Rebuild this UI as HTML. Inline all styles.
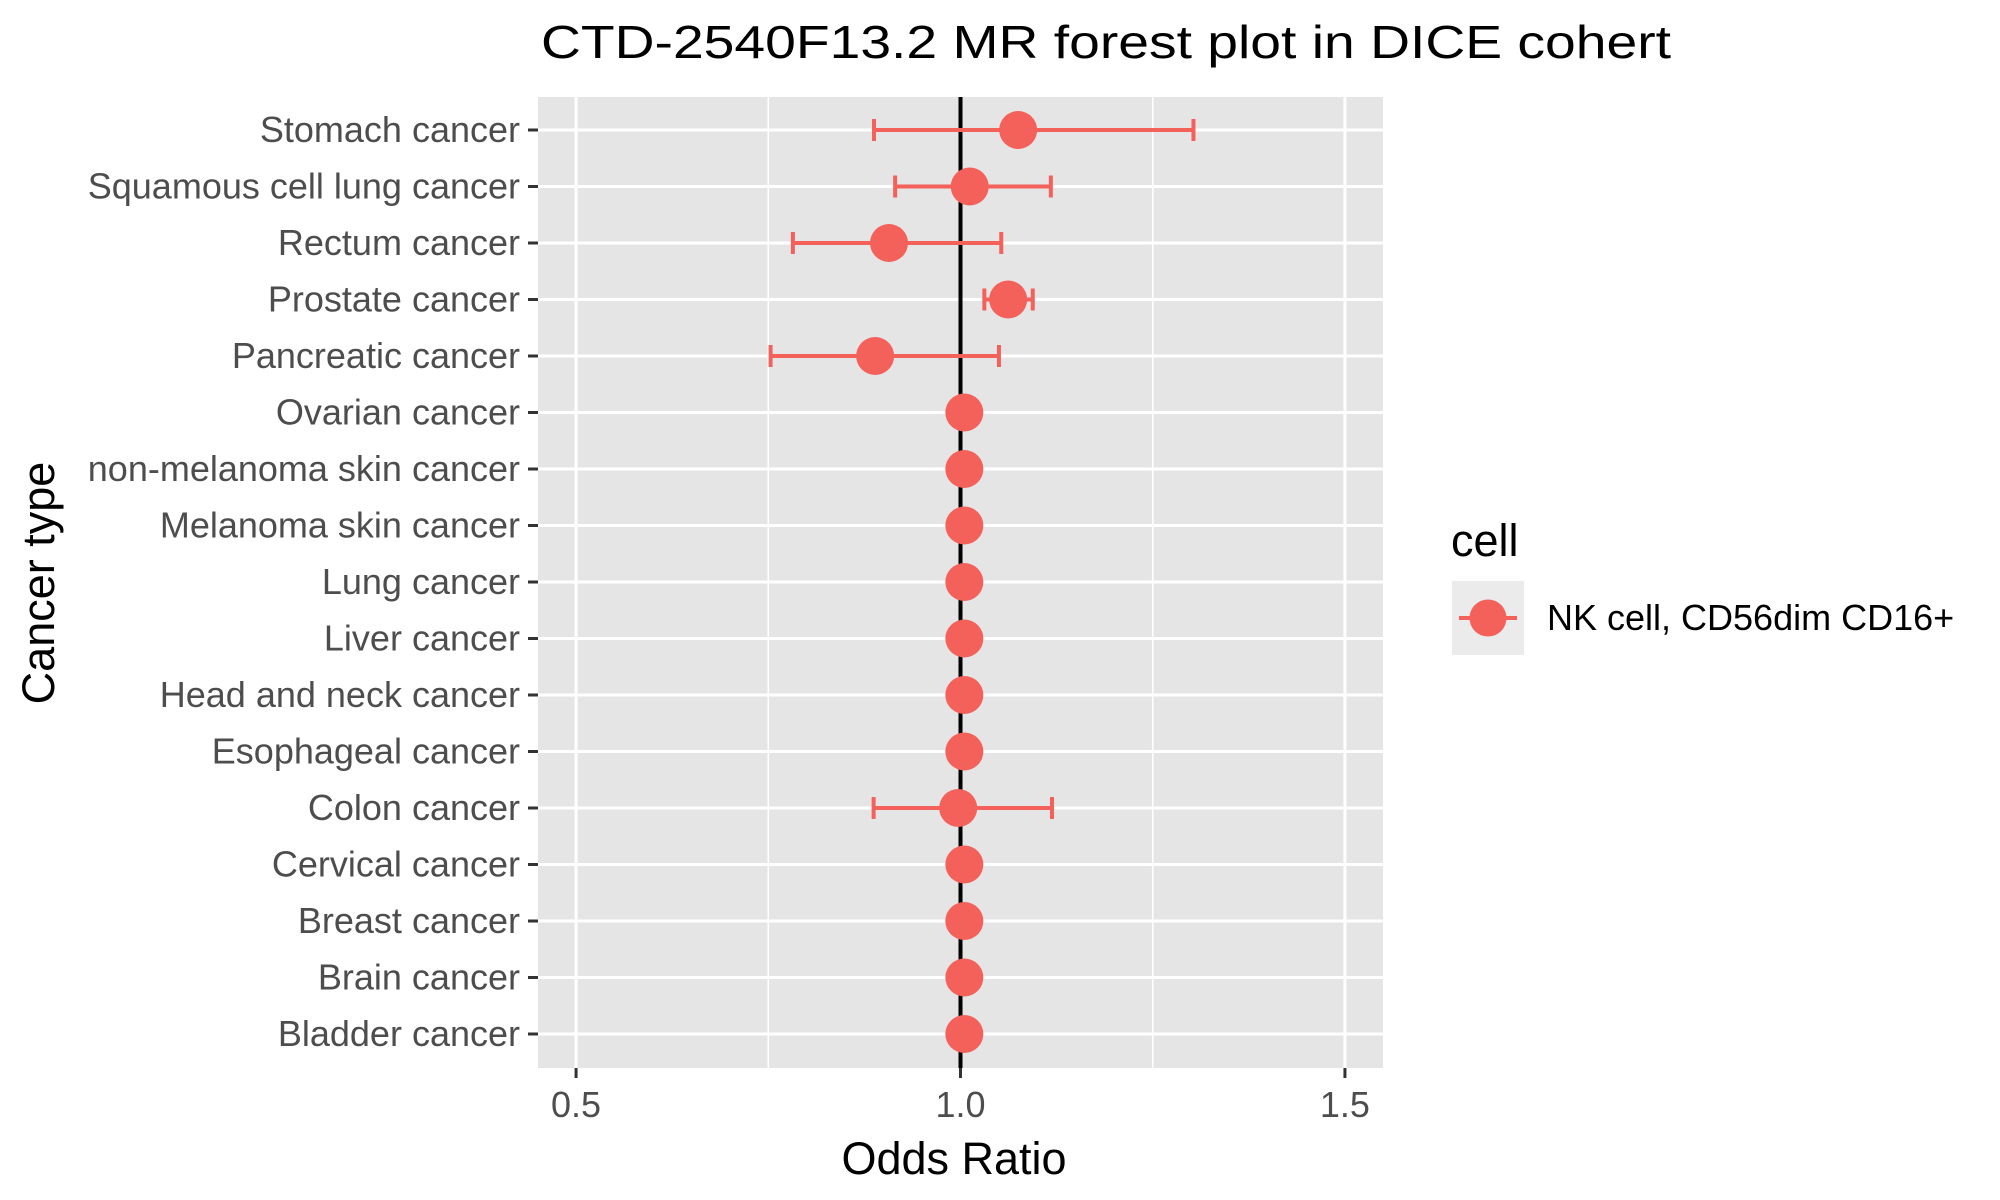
<!DOCTYPE html>
<html><head><meta charset="utf-8"><style>
html,body{margin:0;padding:0;background:#fff;}
svg{display:block;font-family:"Liberation Sans",Arial,sans-serif;}
</style></head><body>
<svg id="chart" width="2000" height="1200" viewBox="0 0 2000 1200">
<text x="1106" y="58" font-size="46" text-anchor="middle" fill="#000" textLength="1130" lengthAdjust="spacingAndGlyphs">CTD-2540F13.2 MR forest plot in DICE cohert</text>
<rect x="538" y="97" width="845" height="971" fill="#e5e5e5"/>
<g id="grid"></g>
<g id="yaxis"></g>
<g id="xaxis"></g>
<line id="refline" y1="97" y2="1068" stroke="#000" stroke-width="4"/>
<g id="marks"></g>
<text x="954" y="1174" font-size="45" text-anchor="middle">Odds Ratio</text>
<text transform="translate(54,583) rotate(-90)" font-size="45" text-anchor="middle">Cancer type</text>
<g>
<text x="1451" y="556" font-size="45">cell</text>
<g>
<rect x="1452" y="581" width="72" height="74" fill="#ebebeb"/>
<line x1="1459" x2="1517" y1="618" y2="618" stroke="#F4605A" stroke-width="4"/>
<circle cx="1488" cy="618" r="18.5" fill="#F4605A"/>
<text x="1547" y="630" font-size="36">NK cell, CD56dim CD16+</text>
</g></g>
</svg>
<script>
const categories=["Stomach cancer","Squamous cell lung cancer","Rectum cancer","Prostate cancer","Pancreatic cancer","Ovarian cancer","non-melanoma skin cancer","Melanoma skin cancer","Lung cancer","Liver cancer","Head and neck cancer","Esophageal cancer","Colon cancer","Cervical cancer","Breast cancer","Brain cancer","Bladder cancer"];
const orValues=[1.075,1.012,0.907,1.062,0.889,1.005,1.005,1.005,1.005,1.005,1.005,1.005,0.997,1.005,1.005,1.005,1.005];
const ciLow=[0.8875,0.915,0.782,1.031,0.753,null,null,null,null,null,null,null,0.887,null,null,null,null];
const ciHigh=[1.303,1.1175,1.053,1.094,1.05,null,null,null,null,null,null,null,1.119,null,null,null,null];
const xTicks=[0.5,1.0,1.5];
const xTickLabels=["0.5","1.0","1.5"];
const xMinor=[0.75,1.25];
const NS="http://www.w3.org/2000/svg";
const COL="#F4605A";
const X0=538,X1=1383,XMIN=0.4505,XMAX=1.5495;
const x=v=>X0+(v-XMIN)/(XMAX-XMIN)*(X1-X0);
const y=i=>130+i*(1034-130)/(categories.length-1);
function mk(tag,attrs,parent){const e=document.createElementNS(NS,tag);for(const k in attrs)e.setAttribute(k,attrs[k]);parent.appendChild(e);return e;}
const grid=document.getElementById('grid'),ya=document.getElementById('yaxis'),xa=document.getElementById('xaxis'),marks=document.getElementById('marks');
xMinor.forEach(v=>{const l=mk('line',{x1:x(v),x2:x(v),y1:97,y2:1068,stroke:'#fff','stroke-width':1.5},grid);

});
xTicks.forEach((v,i)=>{const l=mk('line',{x1:x(v),x2:x(v),y1:97,y2:1068,stroke:'#fff','stroke-width':3},grid);


const t=mk('line',{x1:x(v),x2:x(v),y1:1068,y2:1078,stroke:'#333','stroke-width':3},xa);


const tx=mk('text',{x:x(v),y:1117,'font-size':36,'text-anchor':'middle',fill:'#4d4d4d'},xa);tx.textContent=xTickLabels[i];

});
categories.forEach((c,i)=>{const l=mk('line',{x1:X0,x2:X1,y1:y(i),y2:y(i),stroke:'#fff','stroke-width':3},grid);


const t=mk('line',{x1:528,x2:538,y1:y(i),y2:y(i),stroke:'#333','stroke-width':3},ya);


const tx=mk('text',{x:520,y:y(i)+12,'font-size':36,'text-anchor':'end',fill:'#4d4d4d'},ya);tx.textContent=c;

});
const rl=document.getElementById('refline');rl.setAttribute('x1',x(1));rl.setAttribute('x2',x(1));
categories.forEach((c,i)=>{const g=mk('g',{},marks);


if(ciLow[i]!=null){const yy=y(i);
mk('line',{x1:x(ciLow[i]),x2:x(ciHigh[i]),y1:yy,y2:yy,stroke:COL,'stroke-width':4},g);
mk('line',{x1:x(ciLow[i]),x2:x(ciLow[i]),y1:yy-11,y2:yy+11,stroke:COL,'stroke-width':4},g);
mk('line',{x1:x(ciHigh[i]),x2:x(ciHigh[i]),y1:yy-11,y2:yy+11,stroke:COL,'stroke-width':4},g);}
mk('circle',{cx:x(orValues[i]),cy:y(i),r:19,fill:COL},g);});
</script>
</body></html>
